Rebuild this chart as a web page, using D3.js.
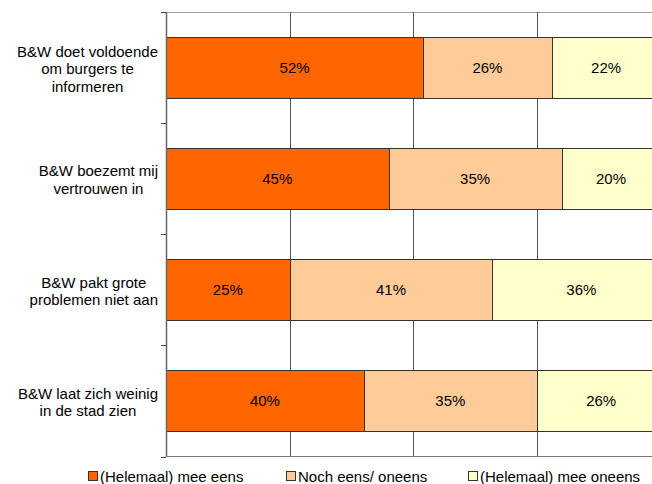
<!DOCTYPE html>
<html>
<head>
<meta charset="utf-8">
<script src="https://cdn.jsdelivr.net/npm/d3@7"></script>
<style>
  html, body { margin: 0; padding: 0; background: #fff; }
  svg { display: block; }
  text { font-family: "Liberation Sans", Arial, sans-serif; fill: #000; }
</style>
</head>
<body>
<svg id="chart" width="652" height="484"></svg>
<script>
const categories = [
  "B&W doet voldoende|om burgers te|informeren",
  "B&W boezemt mij|vertrouwen in",
  "B&W pakt grote|problemen niet aan",
  "B&W laat zich weinig|in de stad zien"
];
const seriesNames = ["(Helemaal) mee eens", "Noch eens/ oneens", "(Helemaal) mee oneens"];
const seriesColors = ["#FF6600", "#FFCC99", "#FFFFCC"];
const meeEens   = [52, 45, 25, 40];
const noch      = [26, 35, 41, 35];
const meeOneens = [22, 20, 36, 26];
const xTicks = [0, 25, 50, 75, 100];

const series = [meeEens, noch, meeOneens];
const rows = categories.map((c, i) => ({ cat: c, vals: series.map(s => s[i]) }));

const svg = d3.select("#chart");
const fontSize = 15;

const x = d3.scaleLinear().domain([0, 100]).range([166, 660.5]);
const y = d3.scaleBand().domain(categories).range([12, 456.5]).paddingInner(0.45).paddingOuter(0.225);

// top border
svg.append("line").attr("x1", 166).attr("x2", 652).attr("y1", 12.5).attr("y2", 12.5)
  .attr("stroke", "#a0a0a0").attr("stroke-width", 1);

// vertical gridlines
svg.append("g").selectAll("line").data(xTicks.slice(1)).join("line")
  .attr("x1", d => Math.round(x(d)) + 0.5).attr("x2", d => Math.round(x(d)) + 0.5)
  .attr("y1", 12).attr("y2", 456.5)
  .attr("stroke", "#555").attr("stroke-width", 1);

// bars
const g = svg.append("g");
rows.forEach(r => {
  let acc = 0;
  r.vals.forEach((v, j) => {
    const x0 = x(acc), x1 = x(acc + v);
    g.append("rect")
      .attr("x", Math.round(x0) + 0.5).attr("y", Math.round(y(r.cat)) + 0.5)
      .attr("width", Math.round(x1) - Math.round(x0)).attr("height", Math.round(y.bandwidth()))
      .attr("fill", seriesColors[j]).attr("stroke", "#333").attr("stroke-width", 1);
    g.append("text")
      .attr("x", (x0 + x1) / 2).attr("y", y(r.cat) + y.bandwidth() / 2)
      .attr("text-anchor", "middle").attr("dominant-baseline", "central")
      .attr("font-size", fontSize)
      .text(v + "%");
    acc += v;
  });
});

// left axis (category ticks between bands)
const axisG = svg.append("g");
axisG.append("line").attr("x1", 166.5).attr("x2", 166.5).attr("y1", 12).attr("y2", 457)
  .attr("stroke", "#666").attr("stroke-width", 1.5);
const bounds = d3.range(categories.length + 1).map(i => 12 + i * y.step());
axisG.selectAll("line.tk").data(bounds).join("line").attr("class", "tk")
  .attr("x1", 161).attr("x2", 166).attr("y1", d => Math.round(d) + 0.5).attr("y2", d => Math.round(d) + 0.5)
  .attr("stroke", "#444").attr("stroke-width", 1);
// bottom line
svg.append("line").attr("x1", 166).attr("x2", 652).attr("y1", 456.5).attr("y2", 456.5)
  .attr("stroke", "#777").attr("stroke-width", 1);

// category labels
const lineH = 17.5;
const labelRight = 158;
rows.forEach(r => {
  const lines = r.cat.split("|");
  const t = svg.append("text").attr("font-size", fontSize).attr("text-anchor", "middle");
  const cy = y(r.cat) + y.bandwidth() / 2 + 1;
  const tspans = lines.map((ln, k) => t.append("tspan")
    .attr("y", cy + (k - (lines.length - 1) / 2) * lineH)
    .attr("dominant-baseline", "central")
    .text(ln));
  const maxW = d3.max(tspans, s => s.node().getComputedTextLength());
  tspans.forEach(s => s.attr("x", labelRight - maxW / 2));
});

// legend
const legendX = [88, 286, 468];
const leg = svg.append("g");
seriesNames.forEach((n, j) => {
  leg.append("rect").attr("x", legendX[j] + 0.5).attr("y", 471.5).attr("width", 9).attr("height", 9)
    .attr("fill", seriesColors[j]).attr("stroke", "#333").attr("stroke-width", 1);
  leg.append("text").attr("x", legendX[j] + 12).attr("y", 476.5)
    .attr("dominant-baseline", "central").attr("font-size", fontSize).text(n);
});
</script>
</body>
</html>
